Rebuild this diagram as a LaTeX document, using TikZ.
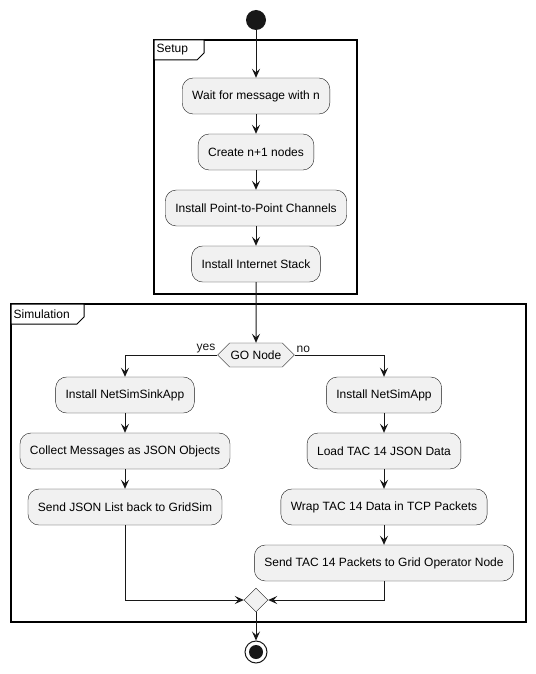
\documentclass[tikz,border=0pt]{standalone}
\usepackage{fontspec}
\setmainfont{Liberation Sans}
\usetikzlibrary{arrows.meta, shapes.geometric, shapes.symbols}
\definecolor{actFill}{HTML}{F1F1F1}
\definecolor{actLine}{HTML}{181818}
\tikzstyle{aAction} = [rectangle, rounded corners=11pt, minimum height=36pt, inner xsep=10pt, text centered, draw=actLine, fill=actFill, font=\fontsize{12}{14}\selectfont]
\tikzstyle{aDecision} = [signal, signal to=west and east, minimum height=24pt, inner xsep=1pt, text centered, draw=actLine, fill=actFill, font=\fontsize{12}{14}\selectfont]
\tikzstyle{aMerge} = [diamond, minimum size=24pt, inner sep=0pt, draw=actLine, fill=actFill]
\tikzstyle{aFrame} = [draw=black, line width=1.5pt]
\tikzstyle{aTab} = [draw=black, line width=1pt, fill=white]
\tikzstyle{aLabel} = [font=\fontsize{12}{14}\selectfont, inner sep=1.5pt]
\tikzstyle{aArrow} = [actLine, line width=1pt, -{Stealth[length=9pt, width=8pt, inset=3.5pt]}]

\begin{document}
\begin{tikzpicture}[x=1pt, y=-1pt, node distance=56pt]
    \useasboundingbox (0,0) rectangle (535,674);
    % frames
    \draw [aFrame] (154,40) rectangle (357,294);
    \draw [aTab] (154,40) -- (154,60) -- (197,60) -- (204,53) -- (204,40) -- cycle;
    \node [aLabel, anchor=west] (setuplbl) at (155,50) {Setup};
    \draw [aFrame] (11,304) rectangle (526,622);
    \draw [aTab] (11,304) -- (11,324) -- (77,324) -- (84,317) -- (84,304) -- cycle;
    \node [aLabel, anchor=west] (simlbl) at (12,314) {Simulation};

    \node (start) [circle, fill=actLine, minimum size=20pt, inner sep=0pt] at (256,20) {};
    \node (wait) [aAction] at (256,96) {Wait for message with n};
    \node (create) [aAction, below of=wait] {Create n+1 nodes};
    \node (channels) [aAction, below of=create] {Install Point-to-Point Channels};
    \node (stack) [aAction, below of=channels] {Install Internet Stack};
    \node (gonode) [aDecision] at (256,355) {GO Node};
    \node (sink) [aAction] at (125,395) {Install NetSimSinkApp};
    \node (collect) [aAction, below of=sink] {Collect Messages as JSON Objects};
    \node (sendlist) [aAction, below of=collect] {Send JSON List back to GridSim};
    \node (netsim) [aAction] at (384,395) {Install NetSimApp};
    \node (load) [aAction, below of=netsim] {Load TAC 14 JSON Data};
    \node (wrap) [aAction, below of=load] {Wrap TAC 14 Data in TCP Packets};
    \node (sendtac) [aAction, below of=wrap] {Send TAC 14 Packets to Grid Operator Node};
    \node (merge) [aMerge] at (256,600) {};
    \node (stop) [circle, draw=actLine, line width=1pt, fill=white, minimum size=22pt, inner sep=0pt] at (256,652) {};
    \node (stopdot) [circle, fill=actLine, minimum size=14pt, inner sep=0pt] at (stop) {};

    \draw [aArrow] (start) -- (wait);
    \draw [aArrow] (wait) -- (create);
    \draw [aArrow] (create) -- (channels);
    \draw [aArrow] (channels) -- (stack);
    \draw [aArrow] (stack) -- (gonode);
    \draw [aArrow] (gonode.west) -| node[aLabel, pos=0, anchor=south east] {yes} (sink.north);
    \draw [aArrow] (gonode.east) -| node[aLabel, pos=0, anchor=south west] {no} (netsim.north);
    \draw [aArrow] (sink) -- (collect);
    \draw [aArrow] (collect) -- (sendlist);
    \draw [aArrow] (netsim) -- (load);
    \draw [aArrow] (load) -- (wrap);
    \draw [aArrow] (wrap) -- (sendtac);
    \draw [aArrow] (sendlist.south) |- (merge.west);
    \draw [aArrow] (sendtac.south) |- (merge.east);
    \draw [aArrow] (merge) -- (stop);
\end{tikzpicture}
\end{document}
